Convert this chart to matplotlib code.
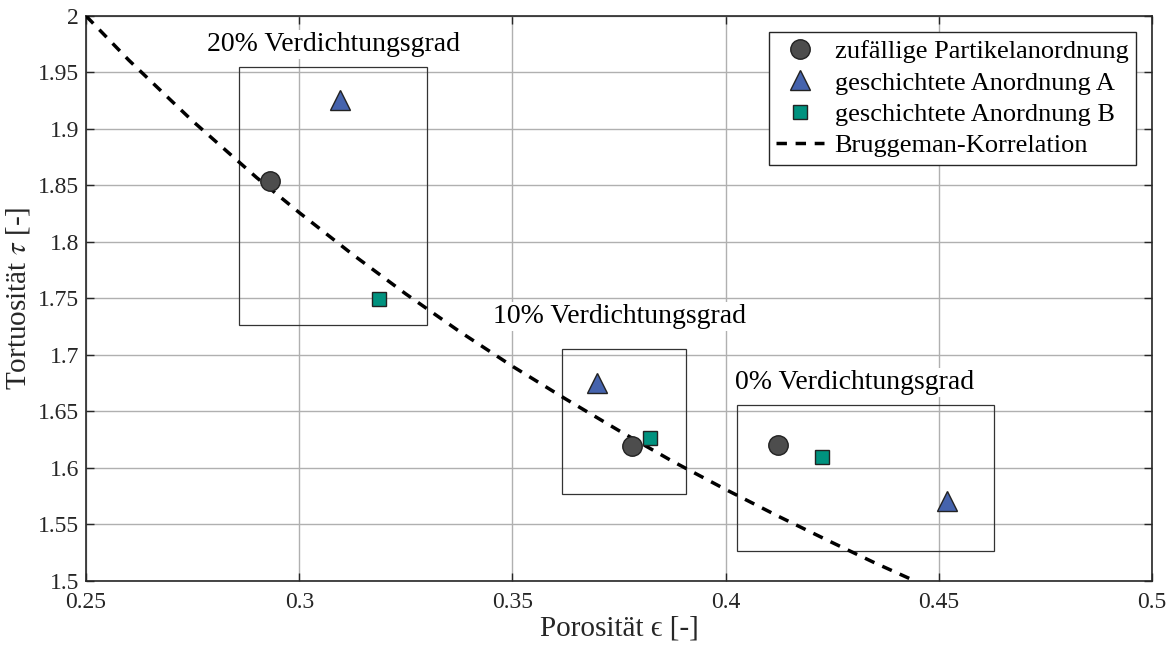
import matplotlib
matplotlib.use("Agg")
from matplotlib import pyplot as plt
from matplotlib.patches import Rectangle

plt.rcParams['font.family'] = ['Liberation Serif', 'DejaVu Serif']
plt.rcParams['mathtext.fontset'] = 'stix'

# measured points (porosity, tortuosity) for 20%, 10%, 0% compaction
eps_random = [0.2932, 0.3780, 0.4123]
tau_random = [1.854, 1.6195, 1.620]
eps_layer_a = [0.3096, 0.3698, 0.4519]
tau_layer_a = [1.926, 1.675, 1.571]
eps_layer_b = [0.3188, 0.3823, 0.4226]
tau_layer_b = [1.7496, 1.6265, 1.6097]

# Bruggeman curve
eps_brug = [0.25, 0.26, 0.275, 0.29, 0.30, 0.3125, 0.325, 0.3375, 0.35, 0.3625,
            0.375, 0.3875, 0.40, 0.4125, 0.425, 0.435, 0.4444]
tau_brug = [2.000, 1.961, 1.907, 1.857, 1.826, 1.789, 1.754, 1.721, 1.690, 1.661,
            1.633, 1.606, 1.581, 1.557, 1.534, 1.516, 1.500]

# grouping boxes: (x0, x1, y0, y1) and labels
group_labels = ["20% Verdichtungsgrad", "10% Verdichtungsgrad", "0% Verdichtungsgrad"]
group_boxes = [(0.2859, 0.3300, 1.7265, 1.955),
               (0.3616, 0.3907, 1.5770, 1.7053),
               (0.4027, 0.4629, 1.5265, 1.6558)]
label_pos = [(0.2784, 1.975), (0.3455, 1.734), (0.4022, 1.676)]

fig = plt.figure(figsize=(11.74, 6.55), dpi=100)
ax = fig.add_axes([0.0733, 0.113, 0.908, 0.8626])

for (x0, x1, y0, y1) in group_boxes:
    ax.add_patch(Rectangle((x0, y0), x1 - x0, y1 - y0, fill=False,
                           edgecolor="#333333", lw=0.9, zorder=3))
for txt, (tx, ty) in zip(group_labels, label_pos):
    ax.text(tx, ty, txt, fontsize=20, va="center", ha="left", zorder=4,
            bbox=dict(facecolor="white", edgecolor="none", pad=1.5))

ax.plot(eps_random, tau_random, 'o', ms=14, mfc="#4d4d4d", mec="#222222",
        mew=1, ls="none", label="zufällige Partikelanordnung", zorder=6)
ax.plot(eps_layer_a, tau_layer_a, '^', ms=15, mfc="#4563ad", mec="#222222",
        mew=1, ls="none", label="geschichtete Anordnung A", zorder=6)
ax.plot(eps_layer_b, tau_layer_b, 's', ms=10, mfc="#00927f", mec="#222222",
        mew=1, ls="none", label="geschichtete Anordnung B", zorder=6)
ax.plot(eps_brug, tau_brug, '--', color="black", lw=2.5, dashes=(3, 2.5),
        label="Bruggeman-Korrelation", zorder=5)

ax.set_xlim(0.25, 0.5)
ax.set_ylim(1.5, 2.0)
ax.set_xticks([0.25, 0.3, 0.35, 0.4, 0.45, 0.5])
ax.set_xticklabels(["0.25", "0.3", "0.35", "0.4", "0.45", "0.5"])
ax.set_yticks([1.5, 1.55, 1.6, 1.65, 1.7, 1.75, 1.8, 1.85, 1.9, 1.95, 2.0])
ax.set_yticklabels(["1.5", "1.55", "1.6", "1.65", "1.7", "1.75", "1.8",
                    "1.85", "1.9", "1.95", "2"])
ax.tick_params(direction="in", top=True, right=True, labelsize=17,
               length=6, width=1, colors="#262626")
ax.tick_params(axis="x", pad=8)
ax.tick_params(axis="y", pad=5)
ax.grid(True, color="#b0b0b0", lw=1)
ax.set_axisbelow(True)
for s in ax.spines.values():
    s.set_color("#262626")
    s.set_linewidth(1.2)

ax.set_xlabel("Porosität ϵ [-]", fontsize=21, color="#262626", labelpad=2)
ax.set_ylabel(r"Tortuosität $\tau$ [-]", fontsize=21, color="#262626", labelpad=4)

leg = ax.legend(loc="upper right", fontsize=19, frameon=True, fancybox=False,
                edgecolor="#262626", framealpha=1, handlelength=1.8,
                handletextpad=0.4, borderaxespad=0.6, labelspacing=0.3,
                borderpad=0.3)
leg.get_frame().set_linewidth(1)

fig.savefig("out.png", dpi=100)
